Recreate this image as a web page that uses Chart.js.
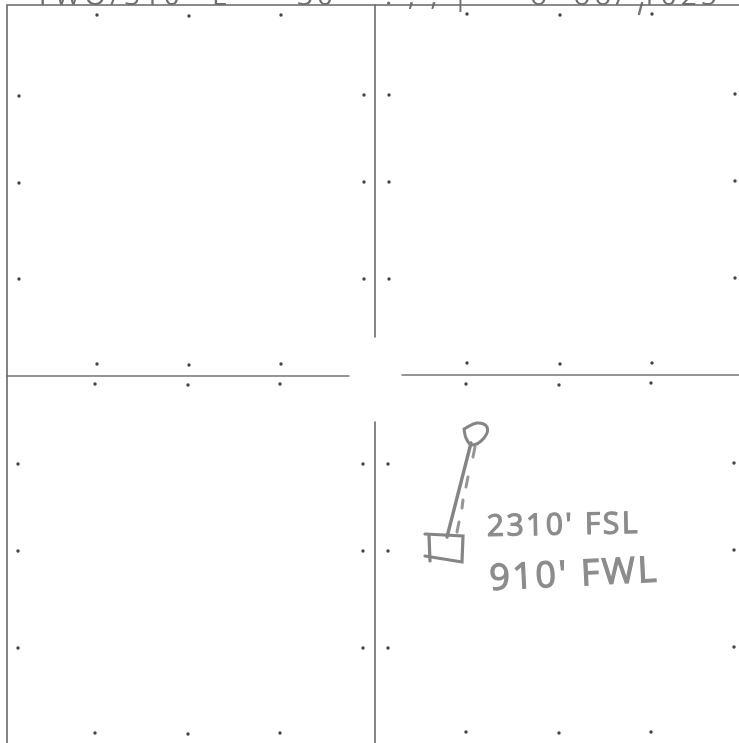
<!DOCTYPE html>
<html lang="en">
<head>
    <meta charset="UTF-8">
    <title>Plat</title>
    <script src="https://cdn.jsdelivr.net/npm/chart.js"></script>
    <style>
        html, body { margin: 0; padding: 0; background: #fff; overflow: hidden; }
        canvas { display: block; }
    </style>
</head>
<body>
    <canvas id="chart" width="739" height="743"></canvas>
<script>
    // section corner ticks
    var topRowDots = [[97,15],[189,16],[281,15],[467,14],[560,15],[652,14]]
    var aboveCrossDots = [[97,364],[189,365],[281,364],[467,363],[560,364],[652,363]]
    var belowCrossDots = [[95,384],[188,385],[280,384],[466,384],[559,385],[651,383]]
    var bottomRowDots = [[95,733],[188,734],[280,733],[466,732],[559,733],[651,732]]
    var farLeftDots = [[19,96],[19,183],[19,279],[18,464],[18,551],[18,648]]
    var innerLeftDots = [[364,95],[364,182],[364,279],[363,464],[363,551],[363,648]]
    var innerRightDots = [[389,95],[389,182],[389,279],[388,464],[388,551],[388,648]]
    var farRightDots = [[735,94],[735,181],[735,278],[734,463],[734,550],[734,647]]

    // section lines
    var frameLine = [[7,743],[7,5],[739,5]]
    var midVerticalUpper = [[375,5],[375,337]]
    var midVerticalLower = [[375,422],[375,743]]
    var midHorizontalLeft = [[7,376],[349,376]]
    var midHorizontalRight = [[402,375],[739,375]]

    // well sketch
    var wellStem = [[471,443],[447,537]]
    var wellLoop = [[464,429],[477,423],[487,427],[484,438],[472,445],[466,438],[464,429]]
    var padBox = [[425,534],[463,536],[462,562],[425,556]]
    var padPost = [[429,535],[430,561]]
    var dashOne = [[475,447],[473,457]]
    var dashTwo = [[468,477],[466,487]]
    var dashThree = [[463,500],[462,508]]
    var dashFour = [[459,522],[457,532]]
    var headerStroke = [[642,3],[639,14]]

    // text
    var noteLabels = ["2310' FSL", "910' FWL"]
    var notePositions = [[487,536],[490,590]]
    var noteSizes = [30, 36]
    var noteTilts = [-0.02, -0.05]
    var headerLabels = ["TWO/S10", "E", "30", ". , , |  -  o  oo/ 1025"]
    var headerPositions = [[35,5],[212,5],[297,5],[385,5]]

    function toPoints(list) {
        return list.map(function (p) { return { x: p[0], y: p[1] } })
    }
    function dots(list) {
        return { data: toPoints(list), showLine: false, pointRadius: 1.7, pointBackgroundColor: '#444', pointBorderWidth: 0 }
    }
    function line(list, width, colour, tension) {
        return { data: toPoints(list), showLine: true, pointRadius: 0, borderColor: colour, borderWidth: width, tension: tension || 0, borderCapStyle: 'round' }
    }

    var textPlugin = {
        id: 'planText',
        afterDatasetsDraw: function (chart) {
            var ctx = chart.ctx, sx = chart.scales.x, sy = chart.scales.y
            ctx.save()
            ctx.fillStyle = '#8c8c8c'
            ctx.strokeStyle = '#8c8c8c'
            ctx.lineWidth = 1.2
            ctx.letterSpacing = '2.5px'
            noteLabels.forEach(function (t, i) {
                ctx.save()
                ctx.font = noteSizes[i] + 'px "Open Sans"'
                ctx.translate(sx.getPixelForValue(notePositions[i][0]), sy.getPixelForValue(notePositions[i][1]))
                ctx.rotate(noteTilts[i])
                ctx.fillText(t, 0, 0)
                ctx.strokeText(t, 0, 0)
                ctx.restore()
            })
            ctx.fillStyle = '#6f6f6f'
            ctx.font = '28px "Open Sans"'
            ctx.letterSpacing = '4px'
            headerLabels.forEach(function (t, i) {
                ctx.fillText(t, sx.getPixelForValue(headerPositions[i][0]), sy.getPixelForValue(headerPositions[i][1]))
            })
            ctx.restore()
        }
    }

    new Chart(document.getElementById('chart'), {
        type: 'scatter',
        data: {
            datasets: [
                line(frameLine, 1.6, '#666'),
                line(midVerticalUpper, 1.5, '#5f5f5f'),
                line(midVerticalLower, 1.5, '#5f5f5f'),
                line(midHorizontalLeft, 1.5, '#747474'),
                line(midHorizontalRight, 1.5, '#747474'),
                dots(topRowDots),
                dots(aboveCrossDots),
                dots(belowCrossDots),
                dots(bottomRowDots),
                dots(farLeftDots),
                dots(innerLeftDots),
                dots(innerRightDots),
                dots(farRightDots),
                line(headerStroke, 2.4, '#777'),
                line(wellStem, 3.4, '#858585'),
                line(wellLoop, 3, '#858585', 0.4),
                line(padBox, 3.2, '#858585'),
                line(padPost, 3.2, '#858585'),
                line(dashOne, 3, '#969696'),
                line(dashTwo, 3, '#969696'),
                line(dashThree, 3, '#969696'),
                line(dashFour, 3, '#969696')
            ]
        },
        options: {
            responsive: false,
            animation: false,
            layout: { padding: 0, autoPadding: false },
            plugins: { legend: { display: false }, tooltip: { enabled: false } },
            scales: {
                x: { type: 'linear', display: false, min: 0, max: 739 },
                y: { type: 'linear', display: false, min: 0, max: 743, reverse: true }
            }
        },
        plugins: [textPlugin]
    })
</script>
</body>
</html>
